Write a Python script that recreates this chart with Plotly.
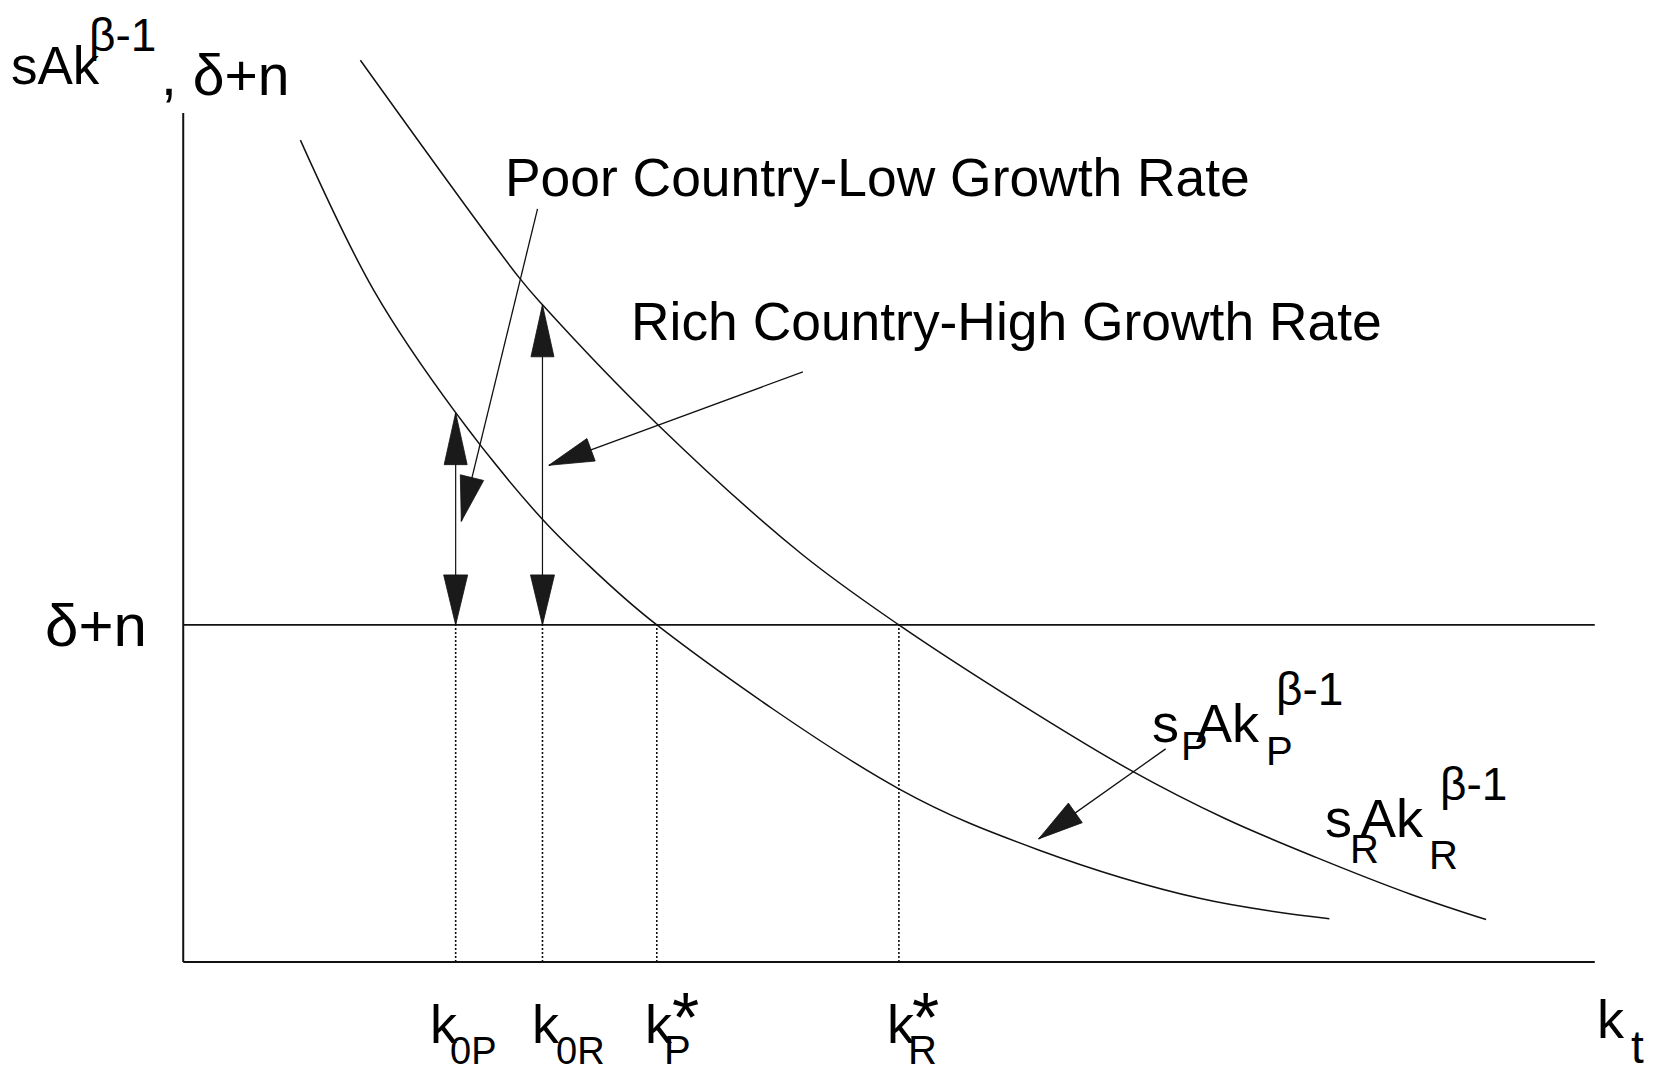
import math
import plotly.graph_objects as go

# ---------------- data ----------------
# poor-country curve  s_P A k^(beta-1)
poor_k = [8.3, 13.5, 19.3, 25.3, 28.1, 33.55, 50.7, 60.6, 72.0, 81.2]
poor_y = [96.8, 79.1, 64.7, 52.4, 47.7, 39.7, 20.4, 13.2, 7.5, 5.1]
# rich-country curve  s_R A k^(beta-1)
rich_k = [12.55, 23.8, 25.45, 33.55, 43.7, 50.7, 59.3, 67.1, 73.8, 80.3, 87.1, 92.3]
rich_y = [106.2, 80.6, 77.4, 63.4, 48.2, 39.7, 30.4, 22.6, 16.9, 12.3, 7.9, 5.0]
# depreciation + population growth line
delta_n = 39.7
# marked capital levels on the k axis
k_names = ["k0P", "k0R", "kP*", "kR*"]
k_values = [19.3, 25.45, 33.55, 50.7]
# growth-rate double arrows (at k0P and k0R): top ends on the curves
growth_k = [19.3, 25.45]
growth_top = [64.7, 77.4]
# axis extents
x_end = 100
y_top = 100
# label pointer arrows: tail -> tip
ptr_tail_k = [25.1, 43.9, 69.6]
ptr_tail_y = [88.7, 69.5, 25.1]
ptr_tip_k = [19.7, 25.9, 60.6]
ptr_tip_y = [51.9, 58.5, 14.5]

# ---------------- layout geometry ----------------
OFF = 8                      # page body margin
W, H = 1661 - OFF, 1073 - OFF
ML, MR, MT, MB = 147, 38, 20, 94
XR = [-2, 102]
YR = [-2, 110]
PW = W - ML - MR
PH = H - MT - MB
SX = PW / (XR[1] - XR[0])
SY = PH / (YR[1] - YR[0])

FONT = "Liberation Sans, Arial, Helvetica, sans-serif"
INK = "#111111"

fig = go.Figure()


def line(xs, ys, width=1.6, dash="solid", color=INK):
    fig.add_trace(go.Scatter(x=xs, y=ys, mode="lines",
                             line=dict(color=color, width=width, dash=dash),
                             hoverinfo="skip", showlegend=False))


def head(tipx, tipy, tailx, taily, L=48, Wd=23):
    dx = (tipx - tailx) * SX
    dy = -(tipy - taily) * SY
    n = math.hypot(dx, dy)
    ux, uy = dx / n, dy / n
    px_, py_ = -uy, ux
    xs, ys = [tipx], [tipy]
    for s in (1, -1):
        ox = -L * ux + s * Wd / 2 * px_
        oy = -L * uy + s * Wd / 2 * py_
        xs.append(tipx + ox / SX)
        ys.append(tipy - oy / SY)
    xs.append(tipx)
    ys.append(tipy)
    fig.add_trace(go.Scatter(x=xs, y=ys, mode="lines", fill="toself",
                             fillcolor="#1a1a1a",
                             line=dict(color=INK, width=0.8),
                             hoverinfo="skip", showlegend=False))


# axes
line([0, 0], [0, y_top], width=2)
line([0, x_end], [0, 0], width=2.2)
# delta + n
line([0, x_end], [delta_n, delta_n], width=1.8)
# curves
for ks, ys in ((poor_k, poor_y), (rich_k, rich_y)):
    fig.add_trace(go.Scatter(x=ks, y=ys, mode="lines",
                             line=dict(color=INK, width=1.5, shape="spline", smoothing=1.0),
                             hoverinfo="skip", showlegend=False))
# dotted drop lines
for kv in k_values:
    line([kv, kv], [0, delta_n], width=1.6, dash="2px,2px")
# double arrows (growth rates)
for kv, top in zip(growth_k, growth_top):
    line([kv, kv], [delta_n, top], width=1.2)
    head(kv, top, kv, delta_n, L=52, Wd=23)
    head(kv, delta_n, kv, top, L=50, Wd=24)
# pointer arrows
for tx, ty, hx, hy in zip(ptr_tail_k, ptr_tail_y, ptr_tip_k, ptr_tip_y):
    line([tx, hx], [ty, hy], width=1.3)
    head(hx, hy, tx, ty, L=45, Wd=24)

# ---------------- text ----------------
annos = []


def txt(s, left, base, size):
    # left / base given in window pixels (ink left edge, text baseline)
    lx = left - 2 - OFF
    cy = base - 0.3465 * size - OFF
    annos.append(dict(x=(lx - ML) / PW, y=(H - MB - cy) / PH,
                      xref="paper", yref="paper", text=s, showarrow=False,
                      xanchor="left", yanchor="middle", borderpad=0,
                      font=dict(family=FONT, size=size, color="black")))


# y-axis title
txt("sAk", 12, 84, 53)
txt("β-1", 90, 51, 46)
txt(", δ+n", 162, 95, 57)
# delta+n tick label
txt("δ+n", 46, 646, 60)
# headline labels
txt("Poor Country-Low Growth Rate", 506, 196, 53.4)
txt("Rich Country-High Growth Rate", 632, 340, 53.4)
# curve labels
txt("s", 1153, 742, 54)
txt("P", 1182, 760, 40)
txt("Ak", 1197, 742, 54)
txt("P", 1267, 765, 40)
txt("β-1", 1277, 705, 46)
txt("s", 1326, 837, 54)
txt("R", 1351, 863, 40)
txt("Ak", 1361, 837, 54)
txt("R", 1430, 869, 40)
txt("β-1", 1441, 800, 46)
# k-axis labels
txt("k", 431, 1043, 54)
txt("0P", 451, 1064, 38)
txt("k", 533, 1043, 54)
txt("0R", 557, 1064, 38)
txt("k", 646, 1043, 54)
txt("*", 673, 1042, 70)
txt("P", 665, 1064, 40)
txt("k", 888, 1043, 54)
txt("*", 913, 1042, 70)
txt("R", 909, 1064, 40)
txt("k", 1598, 1038, 54)
txt("t", 1632, 1063, 46)

fig.update_layout(
    width=W, height=H,
    margin=dict(l=ML, r=MR, t=MT, b=MB, pad=0),
    paper_bgcolor="white", plot_bgcolor="white",
    xaxis=dict(range=XR, visible=False, fixedrange=True),
    yaxis=dict(range=YR, visible=False, fixedrange=True),
    annotations=annos,
    showlegend=False,
)

fig.write_html("out.html")
